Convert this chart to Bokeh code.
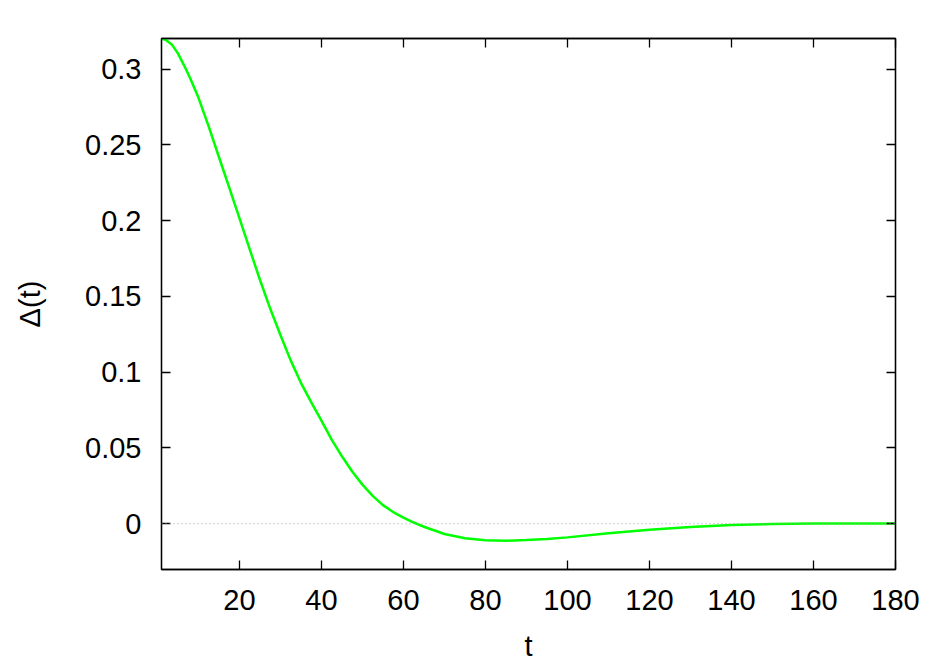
from bokeh.plotting import figure
from bokeh.models import Range1d, FixedTicker, LinearAxis, Span
from bokeh.embed import file_html
from bokeh.resources import INLINE

# data
t = [1, 2, 3.5, 5, 6.5, 8, 10, 12.5, 15, 17.5, 20, 22.5, 25, 27.5, 30, 32.5, 35,
     37.5, 40, 42.5, 45, 47.5, 50, 52.5, 55, 57.5, 60, 62.5, 65, 70, 75, 80, 85,
     90, 95, 100, 110, 120, 130, 140, 150, 160, 170, 180]
delta = [0.3200, 0.3194, 0.3163, 0.3104, 0.3025, 0.2940, 0.2812, 0.2622, 0.2420,
         0.2220, 0.2016, 0.1812, 0.1610, 0.1420, 0.1245, 0.1078, 0.0930, 0.0803,
         0.0680, 0.0555, 0.0445, 0.0345, 0.0258, 0.0184, 0.0123, 0.0077, 0.0040,
         0.0008, -0.0020, -0.0068, -0.0096, -0.0109, -0.0112, -0.0107, -0.0100,
         -0.0090, -0.0063, -0.0040, -0.0022, -0.0009, -0.0002, 0.0001, 0.0002,
         0.0001]

xticks = [20, 40, 60, 80, 100, 120, 140, 160, 180]
yticks = [0, 0.05, 0.1, 0.15, 0.2, 0.25, 0.3]
ytick_labels = ["0", "0.05", "0.1", "0.15", "0.2", "0.25", "0.3"]

FONT = "Liberation Sans"
FS = "29px"

p = figure(width=930, height=664, output_backend="svg", toolbar_location=None,
           x_range=Range1d(1, 180), y_range=Range1d(-0.0302, 0.3202),
           min_border_left=161, min_border_right=35, min_border_top=38,
           min_border_bottom=95)
p.grid.visible = False
p.outline_line_color = "black"
p.outline_line_width = 1.3
p.background_fill_color = "white"
p.border_fill_color = "white"

p.add_layout(Span(location=0, dimension="width", line_color="#a0a0a0",
                  line_dash="1 3", line_width=1))

p.line(t, delta, line_color="#00ff00", line_width=2.5)

def style(ax):
    ax.major_tick_in = 9
    ax.major_tick_out = 0
    ax.minor_tick_in = 0
    ax.minor_tick_out = 0
    ax.axis_line_color = "black"
    ax.axis_line_width = 1.3
    ax.major_tick_line_color = "black"
    ax.major_tick_line_width = 1.3
    ax.major_label_text_font = FONT
    ax.major_label_text_font_size = FS
    ax.major_label_text_color = "black"
    ax.axis_label_text_font = FONT
    ax.axis_label_text_font_size = FS
    ax.axis_label_text_font_style = "normal"
    ax.axis_label_text_color = "black"

xa = p.xaxis[0]
xa.ticker = FixedTicker(ticks=xticks)
xa.axis_label = "t"
xa.major_label_standoff = 20
xa.axis_label_standoff = 17
style(xa)

ya = p.yaxis[0]
ya.ticker = FixedTicker(ticks=yticks)
ya.major_label_overrides = {v: s for v, s in zip(yticks, ytick_labels)}
ya.axis_label = "Δ(t)"
ya.major_label_standoff = 20
ya.axis_label_standoff = 36
style(ya)

top = LinearAxis(ticker=FixedTicker(ticks=xticks))
style(top)
top.major_label_overrides = {v: "" for v in xticks}
p.add_layout(top, "above")
right = LinearAxis(ticker=FixedTicker(ticks=yticks))
style(right)
right.major_label_overrides = {v: "" for v in yticks}
p.add_layout(right, "right")

open("out.html", "w").write(file_html(p, INLINE))
